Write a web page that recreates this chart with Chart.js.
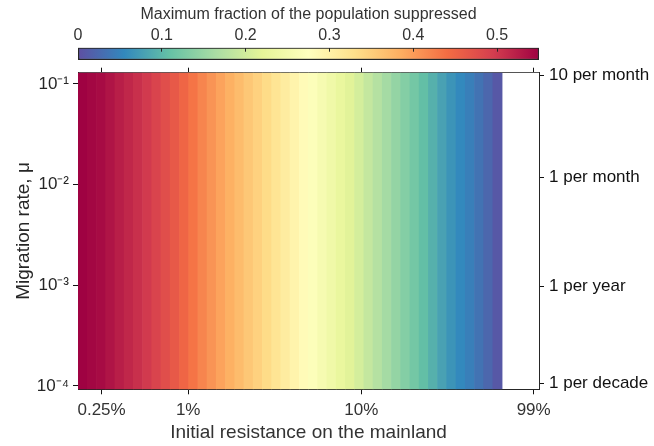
<!DOCTYPE html>
<html>
<head>
<meta charset="utf-8">
<script src="https://cdn.jsdelivr.net/npm/chart.js@4.4.1/dist/chart.umd.min.js"></script>
<style>
  html, body { margin: 0; padding: 0; background: #fff; }
  #wrap { position: relative; width: 654px; height: 446px; }
  canvas { position: absolute; left: 0; top: 0; }
</style>
</head>
<body>
<div id="wrap">
  <canvas id="heatChart" width="654" height="446"></canvas>
  <canvas id="colorbarChart" width="654" height="64"></canvas>
</div>
<script>
// bin edges of the initial resistance (percent), one more than the columns
const resistanceEdges = [
  0.2309, 0.2610, 0.2951, 0.3336, 0.3771, 0.4263, 0.4819, 0.5447, 0.6158, 0.6962,
  0.7870, 0.8898, 1.006, 1.137, 1.285, 1.453, 1.643, 1.857, 2.099, 2.373,
  2.683, 3.033, 3.429, 3.876, 4.382, 4.954, 5.601, 6.332, 7.158, 8.091,
  9.147, 10.34, 11.69, 13.21, 14.94, 16.89, 19.09, 21.58, 24.40, 27.58,
  31.18, 35.25, 39.85, 45.05, 50.92, 57.56, 65.07
];
// maximum fraction of the population suppressed, one per column
const suppressed = [
  0.549, 0.545, 0.541, 0.533, 0.524, 0.516, 0.508, 0.499, 0.488, 0.476,
  0.463, 0.449, 0.434, 0.420, 0.407, 0.394, 0.382, 0.370, 0.358, 0.346,
  0.334, 0.321, 0.308, 0.295, 0.282, 0.268, 0.255, 0.242, 0.229, 0.216,
  0.203, 0.188, 0.174, 0.160, 0.147, 0.134, 0.121, 0.107, 0.093, 0.079,
  0.066, 0.056, 0.046, 0.035, 0.023, 0.009
];
const xTickValues = [0.316, 1, 10, 99];
const xTickLabels = ["0.25%", "1%", "10%", "99%"];
const muTickValues = [1e-4, 1e-3, 1e-2, 1e-1];
const muTickLabels = ["10\u207B\u2074", "10\u207B\u00B3", "10\u207B\u00B2", "10\u207B\u00B9"];
const rateTickValues = [1.06e-4, 9.7e-4, 1.18e-2, 1.22e-1];
const rateTickLabels = ["1 per decade", "1 per year", "1 per month", "10 per month"];
const cbTickValues = [0, 0.1, 0.2, 0.3, 0.4, 0.5];
const cbMax = 0.55;

const xMin = 0.2309, xMax = 106.3;
const muMin = 9.27e-5, muMax = 0.129;

// spectral colormap, low to high
const spectral = ["#5e4fa2", "#3288bd", "#66c2a5", "#abdda4", "#e6f598", "#ffffbf",
                  "#fee08b", "#fdae61", "#f46d43", "#d53e4f", "#9e0142"];

const axisColor = "#262626";
const labelColor = "#333333";
Chart.defaults.font.family = "'Liberation Sans', Arial, Helvetica, sans-serif";

function hexToRgb(h) {
  return [1, 3, 5].map((k) => parseInt(h.slice(k, k + 2), 16));
}

function colorFor(v) {
  const t = Math.min(Math.max(v / cbMax, 0), 1) * (spectral.length - 1);
  const i = Math.min(Math.floor(t), spectral.length - 2);
  const f = t - i;
  const a = hexToRgb(spectral[i]);
  const b = hexToRgb(spectral[i + 1]);
  const c = a.map((x, k) => Math.round(x + (b[k] - x) * f));
  return `rgb(${c[0]},${c[1]},${c[2]})`;
}

const tickGrid = () => ({
  drawOnChartArea: false, offset: false, tickLength: 5,
  color: axisColor, tickColor: "#111111", tickWidth: 1,
});
const border = () => ({ display: true, color: axisColor, width: 1 });

new Chart(document.getElementById("heatChart"), {
  type: "bar",
  data: {
    labels: ["all"],
    datasets: [
      {
        data: suppressed.map((v, i) => ({
          x: [resistanceEdges[i], resistanceEdges[i + 1]],
          y: "all",
        })),
        backgroundColor: suppressed.map(colorFor),
        borderWidth: 0,
        barPercentage: 1,
        categoryPercentage: 1,
        xAxisID: "x",
        yAxisID: "yc",
      },
    ],
  },
  options: {
    indexAxis: "y",
    responsive: false,
    animation: false,
    devicePixelRatio: 1,
    layout: { padding: 0 },
    plugins: { legend: { display: false }, tooltip: { enabled: false } },
    scales: {
      x: {
        type: "logarithmic",
        position: "bottom",
        offset: false,
        min: xMin,
        max: xMax,
        afterBuildTicks: (s) => { s.ticks = xTickValues.map((v) => ({ value: v })); },
        ticks: {
          callback: (v, i) => xTickLabels[i],
          font: { size: 17 },
          color: labelColor,
          padding: 6,
          maxRotation: 0,
          autoSkip: false,
        },
        grid: tickGrid(),
        border: border(),
        title: {
          display: true,
          text: "Initial resistance on the mainland",
          font: { size: 19, lineHeight: 1.2 },
          color: labelColor,
          padding: { top: 0, bottom: 2 },
        },
        afterFit: (s) => { s.height = 56.7; },
      },
      xt: {
        type: "logarithmic",
        position: "top",
        offset: false,
        min: xMin,
        max: xMax,
        afterBuildTicks: (s) => { s.ticks = xTickValues.map((v) => ({ value: v })); },
        ticks: { display: false },
        grid: tickGrid(),
        border: { display: true, color: "#555555", width: 1 },
        afterFit: (s) => { s.height = 72.7; },
      },
      yc: { type: "category", display: false, position: "left" },
      yl: {
        type: "logarithmic",
        position: "left",
        offset: false,
        min: muMin,
        max: muMax,
        afterBuildTicks: (s) => { s.ticks = muTickValues.map((v) => ({ value: v })); },
        ticks: {
          callback: (v, i) => muTickLabels[i],
          font: { size: 17 },
          color: axisColor,
          padding: 4,
          autoSkip: false,
        },
        grid: tickGrid(),
        border: border(),
        title: {
          display: true,
          text: "Migration rate, \u03BC",
          font: { size: 19, lineHeight: 1.2 },
          color: axisColor,
          padding: { top: 12, bottom: 0 },
        },
        afterFit: (s) => { s.width = 78; },
      },
      yr: {
        type: "logarithmic",
        position: "right",
        offset: false,
        min: muMin,
        max: muMax,
        afterBuildTicks: (s) => { s.ticks = rateTickValues.map((v) => ({ value: v })); },
        ticks: {
          callback: (v, i) => rateTickLabels[i],
          font: { size: 17 },
          color: "#111111",
          padding: 5,
          autoSkip: false,
        },
        grid: tickGrid(),
        border: border(),
        afterFit: (s) => { s.width = 115; },
      },
    },
  },
});

// colour bar drawn as a single floating bar filled with the colormap;
// its short inward ticks come from a second, label-less top axis drawn above the bar
new Chart(document.getElementById("colorbarChart"), {
  type: "bar",
  data: {
    labels: ["cb"],
    datasets: [
      {
        data: [[0, cbMax]],
        backgroundColor: (ctx) => {
          const chart = ctx.chart;
          if (!chart.chartArea) return spectral[0];
          const sx = chart.scales.x;
          const g = chart.ctx.createLinearGradient(
            sx.getPixelForValue(0), 0, sx.getPixelForValue(cbMax), 0);
          spectral.forEach((c, i) => g.addColorStop(i / (spectral.length - 1), c));
          return g;
        },
        borderColor: axisColor,
        borderWidth: 1.5,
        borderSkipped: false,
        barPercentage: 1,
        categoryPercentage: 1,
      },
    ],
  },
  options: {
    indexAxis: "y",
    responsive: false,
    animation: false,
    devicePixelRatio: 1,
    layout: { padding: { left: 78, right: 115, top: 0, bottom: 4 } },
    plugins: { legend: { display: false }, tooltip: { enabled: false } },
    scales: {
      x: {
        type: "linear",
        position: "top",
        weight: 1,
        min: 0,
        max: cbMax,
        afterBuildTicks: (s) => { s.ticks = cbTickValues.map((v) => ({ value: v })); },
        ticks: {
          callback: (v) => String(v),
          font: { size: 16 },
          color: labelColor,
          padding: 3,
          maxRotation: 0,
          autoSkip: false,
        },
        grid: { display: false, drawTicks: false },
        border: { display: false },
        title: {
          display: true,
          text: "Maximum fraction of the population suppressed",
          font: { size: 16, lineHeight: 1.2 },
          color: labelColor,
          padding: { top: 5.4, bottom: 0 },
        },
        afterFit: (s) => { s.height = 47.7; },
      },
      xin: {
        type: "linear",
        position: "top",
        weight: 0,
        min: 0,
        max: cbMax,
        afterBuildTicks: (s) => { s.ticks = cbTickValues.map((v) => ({ value: v })); },
        ticks: { display: false },
        grid: {
          drawOnChartArea: false, drawTicks: true, tickLength: -4,
          color: axisColor, z: 1,
        },
        border: { display: false },
        afterFit: (s) => { s.height = 0; },
      },
      y: { type: "category", display: false },
    },
  },
});
</script>
</body>
</html>
